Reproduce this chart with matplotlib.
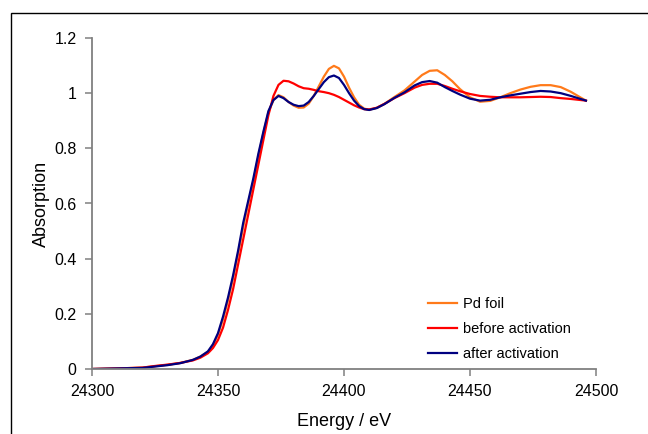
import matplotlib
matplotlib.use('Agg')
import matplotlib.pyplot as plt
from matplotlib.patches import Rectangle

plt.rcParams['font.family'] = ['Liberation Sans', 'DejaVu Sans']

# Pd K-edge XANES
energy = [24300, 24310, 24320, 24325, 24330, 24335, 24340, 24343, 24346, 24348,
          24350, 24352, 24354, 24356, 24358, 24360, 24362, 24364, 24366, 24368,
          24370, 24372, 24374, 24376, 24378, 24380, 24382, 24384, 24386, 24388,
          24390, 24392, 24394, 24396, 24398, 24400, 24402, 24404, 24406, 24408,
          24410, 24413, 24416, 24420, 24424, 24428, 24431, 24434, 24437, 24440,
          24443, 24446, 24450, 24454, 24458, 24462, 24466, 24470, 24474, 24478,
          24482, 24486, 24490, 24496]

pd_foil = [0.0, 0.002, 0.005, 0.010, 0.015, 0.022, 0.033, 0.045, 0.062, 0.086,
           0.125, 0.18, 0.25, 0.33, 0.42, 0.515, 0.60, 0.68, 0.77, 0.855,
           0.93, 0.975, 0.993, 0.985, 0.968, 0.955, 0.947, 0.948, 0.962, 0.99,
           1.025, 1.06, 1.088, 1.099, 1.09, 1.06, 1.02, 0.985, 0.958, 0.944,
           0.94, 0.947, 0.961, 0.986, 1.01, 1.042, 1.066, 1.081, 1.083, 1.066,
           1.043, 1.015, 0.985, 0.969, 0.972, 0.985, 1.0, 1.013, 1.023, 1.029,
           1.029, 1.022, 1.005, 0.973]

before_act = [0.0, 0.002, 0.005, 0.011, 0.016, 0.022, 0.031, 0.041, 0.057, 0.076,
              0.105, 0.15, 0.215, 0.29, 0.38, 0.47, 0.56, 0.65, 0.74, 0.83,
              0.92, 0.99, 1.03, 1.045, 1.043, 1.035, 1.025, 1.018, 1.016, 1.012,
              1.007, 1.004, 1.0, 0.994, 0.986, 0.976, 0.966, 0.956, 0.948, 0.942,
              0.941, 0.947, 0.961, 0.982, 1.0, 1.02, 1.03, 1.034, 1.034, 1.026,
              1.016, 1.007, 0.997, 0.99, 0.987, 0.985, 0.985, 0.985, 0.986, 0.987,
              0.986, 0.982, 0.979, 0.973]

after_act = [0.0, 0.002, 0.004, 0.009, 0.014, 0.021, 0.033, 0.045, 0.064, 0.09,
             0.13, 0.19, 0.26, 0.34, 0.43, 0.53, 0.61, 0.69, 0.78, 0.86,
             0.935, 0.975, 0.99, 0.982, 0.968, 0.958, 0.953, 0.955, 0.968, 0.99,
             1.015, 1.04, 1.058, 1.064, 1.055, 1.03, 1.0, 0.973, 0.953, 0.942,
             0.939, 0.946, 0.96, 0.983, 1.003, 1.028, 1.04, 1.044, 1.038, 1.022,
             1.008, 0.995, 0.98, 0.973, 0.976, 0.985, 0.992, 0.998, 1.004, 1.008,
             1.006, 1.0, 0.99, 0.973]

fig = plt.figure(figsize=(6.48, 4.34), dpi=100)
ax = fig.add_axes([92/648, 1 - 369/434, 504/648, 331/434])

ax.plot(energy, pd_foil, color='#FF7A1A', lw=1.6, label='Pd foil')
ax.plot(energy, before_act, color='#FF0000', lw=1.6, label='before activation')
ax.plot(energy, after_act, color='#000080', lw=1.6, label='after activation')

ax.set_xlim(24300, 24500)
ax.set_ylim(0, 1.2)
ax.set_xticks([24300, 24350, 24400, 24450, 24500])
ax.set_yticks([0, 0.2, 0.4, 0.6, 0.8, 1, 1.2])
ax.set_yticklabels(['0', '0.2', '0.4', '0.6', '0.8', '1', '1.2'])

for s in ['top', 'right']:
    ax.spines[s].set_visible(False)
for s in ['left', 'bottom']:
    ax.spines[s].set_color('#808080')
    ax.spines[s].set_linewidth(1.3)
ax.tick_params(direction='out', length=5, width=1.1, color='#808080',
               labelsize=11.5, pad=6)

ax.set_xlabel('Energy / eV', fontsize=13, labelpad=10)
ax.set_ylabel('Absorption', fontsize=13, labelpad=3)

ax.legend(loc='lower left', bbox_to_anchor=(0.64, -0.016), frameon=False,
          fontsize=10.5, handlelength=2.0, labelspacing=0.75, handletextpad=0.4)

# outer chart-area frame (only left and top edges visible in the crop)
fig.patches.append(Rectangle((11/648, -0.05), 1.0, 1 - 13/434 + 0.05,
                             transform=fig.transFigure, fill=False,
                             edgecolor='black', lw=1.0))

fig.savefig('out.png', dpi=100)
